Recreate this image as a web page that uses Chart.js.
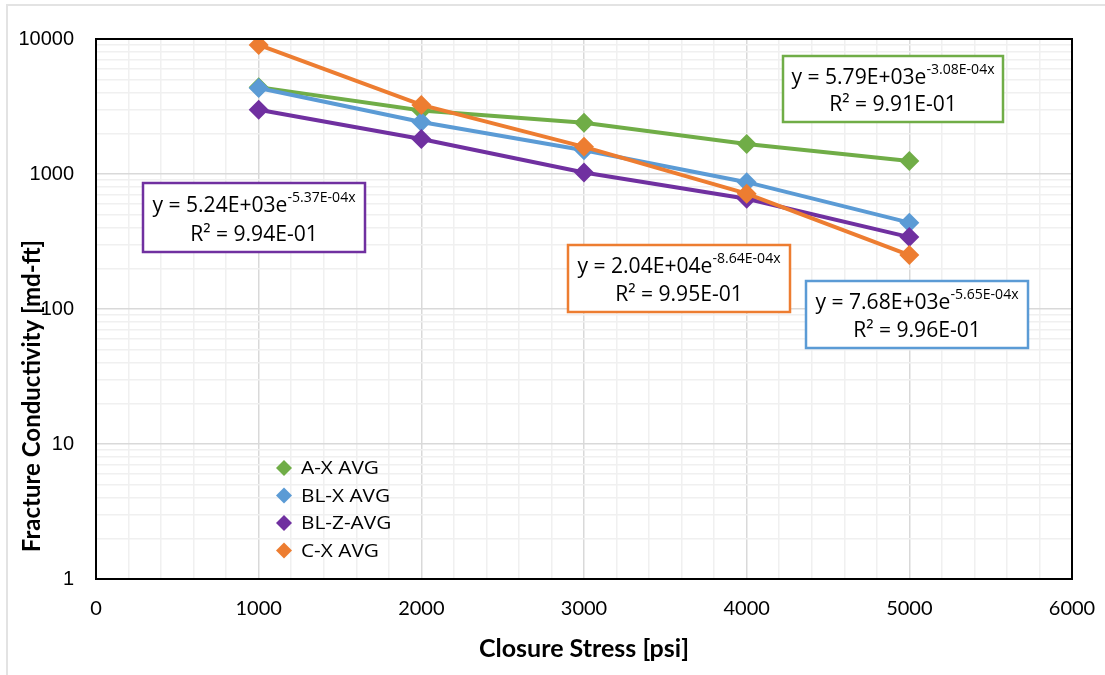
<!DOCTYPE html>
<html>
<head>
<meta charset="utf-8">
<script src="https://cdn.jsdelivr.net/npm/chart.js@4/dist/chart.umd.min.js"></script>
<style>
  html, body { margin: 0; padding: 0; background: #fff; }
  #wrap { width: 1105px; height: 675px; position: relative; }
</style>
</head>
<body>
<div id="wrap"><canvas id="chart" width="1105" height="675"></canvas></div>
<script>
// closure stress [psi]
const stress = [1000, 2000, 3000, 4000, 5000];

// fracture conductivity [md-ft], averages per sample
const axAvg  = [4400, 2950, 2400, 1670, 1250];
const blxAvg = [4330, 2430, 1500, 870, 436];
const blzAvg = [2990, 1816, 1025, 655, 341];
const cxAvg  = [9040, 3250, 1590, 715, 251];

const seriesNames  = ['A-X AVG', 'BL-X AVG', 'BL-Z-AVG', 'C-X AVG'];
const seriesColors = ['#70ad47', '#5b9bd5', '#7030a0', '#ed7d31'];

// exponential trendline labels: [coef, exponent, R²]
const fitText = [
  ['5.79E+03', '-3.08E-04x', '9.91E-01'],
  ['7.68E+03', '-5.65E-04x', '9.96E-01'],
  ['5.24E+03', '-5.37E-04x', '9.94E-01'],
  ['2.04E+04', '-8.64E-04x', '9.95E-01']
];

const yTickValues = [];
for (let e = 0; e < 4; e++) {
  for (let s = 1; s < 10; s++) yTickValues.push(s * Math.pow(10, e));
}
yTickValues.push(10000);

const titleFont = 'Lato, "Open Sans", sans-serif';
const labelFont = '"Open Sans", Lato, sans-serif';

function toPoints(vals) {
  return vals.map((v, i) => ({ x: stress[i], y: v }));
}

// text drawn with a horizontal stretch so a reference string gets a set width
function wideText(ctx, text, x, y, sx) {
  ctx.save();
  ctx.translate(x, y);
  ctx.scale(sx, 1);
  ctx.fillText(text, 0, 0);
  ctx.restore();
}

const datasets = [axAvg, blxAvg, blzAvg, cxAvg].map((vals, i) => ({
  label: seriesNames[i],
  data: toPoints(vals),
  borderColor: seriesColors[i],
  backgroundColor: seriesColors[i],
  borderWidth: 4,
  pointStyle: 'rectRot',
  pointRadius: 10,
  pointHoverRadius: 10,
  pointBorderWidth: 0,
  showLine: true,
  tension: 0
}));

// draw order: A-X at the back, C-X in front
datasets.forEach((d, i) => { d.order = datasets.length - i; });

// outer frame, plot border, axis titles, inner legend and trendline labels
const decorPlugin = {
  id: 'decor',
  beforeDraw(chart) {
    const ctx = chart.ctx;
    ctx.save();
    ctx.fillStyle = '#fff';
    ctx.fillRect(0, 0, chart.width, chart.height);
    ctx.strokeStyle = '#e3e3e3';
    ctx.lineWidth = 2;
    ctx.beginPath();
    ctx.moveTo(7, chart.height);
    ctx.lineTo(7, 5);
    ctx.lineTo(chart.width, 5);
    ctx.stroke();
    ctx.restore();
  },
  afterDraw(chart) {
    const ctx = chart.ctx;
    const a = chart.chartArea;
    ctx.save();
    ctx.strokeStyle = '#000';
    ctx.lineWidth = 2;
    ctx.strokeRect(a.left, a.top, a.right - a.left, a.bottom - a.top);

    // axis titles
    ctx.fillStyle = '#000';
    ctx.textAlign = 'center';
    ctx.textBaseline = 'middle';
    ctx.font = 'bold 25px ' + titleFont;
    ctx.fillText('Closure Stress [psi]', (a.left + a.right) / 2, 649);
    ctx.save();
    ctx.translate(32, 396);
    ctx.rotate(-Math.PI / 2);
    ctx.font = 'bold 24px ' + titleFont;
    ctx.fillText('Fracture Conductivity [md-ft]', 0, 0);
    ctx.restore();

    // legend inside the plot
    ctx.font = '19px ' + labelFont;
    ctx.textBaseline = 'middle';
    ctx.textAlign = 'left';
    const legendScale = 78 / ctx.measureText(seriesNames[0]).width;
    chart.data.datasets.forEach((d, i) => {
      const y = 468 + i * 27.5;
      const x = 284;
      ctx.fillStyle = d.borderColor;
      ctx.beginPath();
      ctx.moveTo(x, y - 8);
      ctx.lineTo(x + 8, y);
      ctx.lineTo(x, y + 8);
      ctx.lineTo(x - 8, y);
      ctx.closePath();
      ctx.fill();
      ctx.fillStyle = '#000';
      wideText(ctx, d.label, 301, y + 1, legendScale);
    });

    // trendline equation boxes
    const boxes = [
      { i: 0, x: 783, y: 56, w: 220, h: 66 },
      { i: 1, x: 806, y: 281, w: 222, h: 67 },
      { i: 2, x: 143, y: 183, w: 222, h: 69 },
      { i: 3, x: 568, y: 245, w: 222, h: 67 }
    ];
    ctx.font = '21px ' + labelFont;
    const boxScale = 135 / ctx.measureText('y = ' + fitText[0][0] + 'e').width;
    boxes.forEach(b => {
      const [coef, expo, r2] = fitText[b.i];
      ctx.fillStyle = '#fff';
      ctx.fillRect(b.x, b.y, b.w, b.h);
      ctx.strokeStyle = seriesColors[b.i];
      ctx.lineWidth = 2.5;
      ctx.strokeRect(b.x, b.y, b.w, b.h);

      const cx = b.x + b.w / 2;
      const l1 = b.y + b.h * 0.30;
      const l2 = b.y + b.h * 0.75;
      const main = 'y = ' + coef + 'e';
      const r2Text = 'R\u00b2 = ' + r2;
      ctx.font = '21px ' + labelFont;
      const wMain = ctx.measureText(main).width * boxScale;
      const wR2 = ctx.measureText(r2Text).width * boxScale;
      ctx.font = '14px ' + labelFont;
      const wExp = ctx.measureText(expo).width * boxScale;
      const startX = cx - (wMain + wExp) / 2;
      ctx.fillStyle = '#000';
      ctx.textAlign = 'left';
      ctx.font = '21px ' + labelFont;
      wideText(ctx, main, startX, l1 + 2, boxScale);
      ctx.font = '14px ' + labelFont;
      wideText(ctx, expo, startX + wMain, l1 - 6, boxScale);
      ctx.font = '21px ' + labelFont;
      wideText(ctx, r2Text, cx - wR2 / 2, l2, boxScale);
    });
    ctx.restore();
  }
};

new Chart(document.getElementById('chart'), {
  type: 'scatter',
  data: { datasets: datasets },
  plugins: [decorPlugin],
  options: {
    responsive: false,
    animation: false,
    layout: { padding: { left: 0, top: 39, right: 33, bottom: 0 } },
    plugins: {
      legend: { display: false },
      tooltip: { enabled: false }
    },
    scales: {
      x: {
        type: 'linear',
        min: 0,
        max: 6000,
        ticks: {
          stepSize: 200,
          autoSkip: false,
          maxRotation: 0,
          padding: 18,
          color: '#000',
          font: { family: titleFont, size: 20 },
          callback: v => (v % 1000 === 0 ? String(v) : '')
        },
        grid: {
          drawTicks: false,
          lineWidth: 1.5,
          color: c => (c.tick && c.tick.value % 1000 === 0 ? '#d9d9d9' : '#f0f0f0')
        },
        border: { display: false },
        afterFit: s => {
          s.height = 96;
          s.paddingLeft = 0;
          s.paddingRight = 0;
        }
      },
      y: {
        type: 'logarithmic',
        min: 1,
        max: 10000,
        afterBuildTicks: s => {
          s.ticks = yTickValues.map(v => ({ value: v }));
        },
        ticks: {
          autoSkip: false,
          padding: 22,
          color: '#000',
          font: { family: '"Liberation Sans", Arial, sans-serif', size: 20 },
          callback: v => {
            const e = Math.log10(v);
            return Math.abs(e - Math.round(e)) < 1e-9 ? String(v) : '';
          }
        },
        grid: {
          drawTicks: false,
          lineWidth: 1.5,
          color: c => {
            if (!c.tick) return '#f0f0f0';
            const e = Math.log10(c.tick.value);
            return Math.abs(e - Math.round(e)) < 1e-9 ? '#d9d9d9' : '#f0f0f0';
          }
        },
        border: { display: false },
        afterFit: s => {
          s.width = 96;
          s.paddingTop = 0;
          s.paddingBottom = 0;
        }
      }
    }
  }
});
</script>
</body>
</html>
